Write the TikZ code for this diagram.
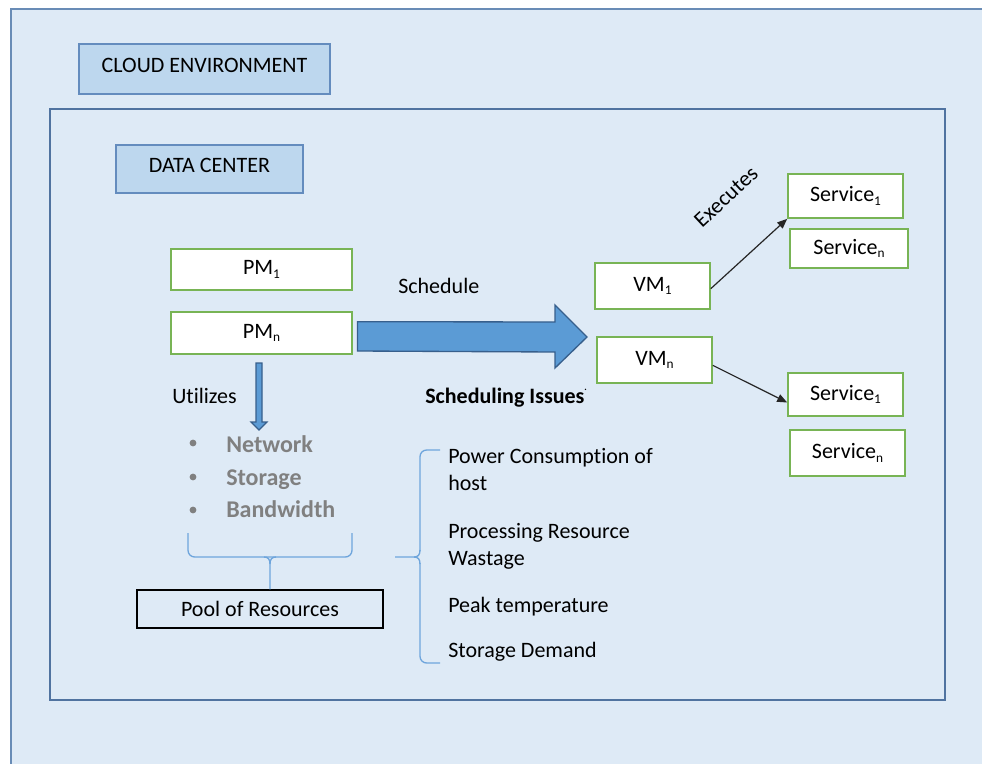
\documentclass[tikz,border=0pt]{standalone}
\usepackage{fontspec}
\setmainfont{Carlito}[Ligatures=NoCommon]
\usetikzlibrary{fit,arrows.meta}

\definecolor{bgblue}{RGB}{222,234,246}
\definecolor{titlefill}{RGB}{189,215,238}
\definecolor{titleline}{RGB}{100,140,190}
\definecolor{frameline}{RGB}{105,140,182}
\definecolor{dcline}{RGB}{80,115,160}
\definecolor{boxgreen}{RGB}{120,180,85}
\definecolor{arrowfill}{RGB}{91,155,213}
\definecolor{arrowline}{RGB}{55,95,140}
\definecolor{bracecol}{RGB}{110,165,220}
\definecolor{resgray}{RGB}{128,128,128}

% small index set low, as in the labels of the machines
\newcommand{\idx}[1]{\raisebox{-0.35ex}{\fontsize{10}{10}\selectfont #1}}

\begin{document}
\begin{tikzpicture}[x=0.75pt,y=-0.75pt,
  font=\fontsize{16.5}{19}\selectfont,
  frame/.style={draw=frameline, line width=1.4pt, inner sep=0pt},
  titlebox/.style={draw=titleline, fill=titlefill, line width=1.1pt, inner sep=0pt},
  gbox/.style={draw=boxgreen, fill=white, line width=1.2pt, inner sep=0pt},
  bigarrow/.style={fill=arrowfill, draw=arrowline, line width=1pt, line join=miter},
  brace/.style={draw=bracecol, line width=1pt},
  conn/.style={draw=black!85, line width=0.9pt, -{Triangle[length=7.5pt,width=6pt]}},
  plain/.style={inner sep=0pt, anchor=base west},
  res/.style={plain, text=resgray, font=\fontsize{18}{21}\selectfont\bfseries}
]
% page
\useasboundingbox (0,0) rectangle (982,764);
\fill[white] (0,0) rectangle (982,764);

% cloud environment frame (runs off the page to the right and bottom)
\node[frame, fill=bgblue, fit={(11,9) (1010,790)}] (cloud) {};
\node[titlebox, fit={(79,44) (330,94)}] (cloudtitle) {};
\node at ([yshift=3pt]cloudtitle.center) {CLOUD ENVIRONMENT};

% data center frame
\node[draw=dcline, line width=1.2pt, inner sep=0pt, fit={(50,109) (945,700)}] (dc) {};
\node[titlebox, fit={(116,145) (303,193)}] (dctitle) {};
\node at ([yshift=3pt]dctitle.center) {DATA CENTER};

% physical machines
\node[gbox, fit={(171,249) (352,290)}] (pm1) {};
\node at (pm1.center) {PM\idx{1}};
\node[gbox, fit={(171,312) (352,354)}] (pmn) {};
\node at (pmn.center) {PM\idx{n}};

% virtual machines
\node[gbox, fit={(595,263) (710,309)}] (vm1) {};
\node at (vm1.center) {VM\idx{1}};
\node[gbox, fit={(597,337) (712,383)}] (vmn) {};
\node at (vmn.center) {VM\idx{n}};

% services
\node[gbox, fit={(788,174) (903,218)}] (s1a) {};
\node at (s1a.center) {Service\idx{1}};
\node[gbox, fit={(790,229) (908,268)}] (sna) {};
\node at (sna.center) {Service\idx{n}};
\node[gbox, fit={(788,373) (903,416)}] (s1b) {};
\node at (s1b.center) {Service\idx{1}};
\node[gbox, fit={(790,430) (905,476)}] (snb) {};
\node at (snb.center) {Service\idx{n}};

% schedule block arrow from PM_n towards the VMs
\path[bigarrow] ([xshift=3.5pt,yshift=8.5pt]pmn.east) -- (555,322) -- (555,305)
  -- (587,337) -- (555,368) -- (555,352) -- ([xshift=3.5pt,yshift=-13.5pt]pmn.east) -- cycle;
\node[plain] (schedule) at (398,293) {Schedule};
\node[plain, font=\fontsize{16.5}{19}\selectfont\bfseries] (issues) at (425,403)
  {Scheduling Issues\raisebox{1.2ex}{\fontsize{7}{7}\selectfont .}};

% utilizes arrow
\path[bigarrow, line width=0.9pt] (256,363) -- (262,363) -- (262,422) -- (267,422)
  -- (259,430) -- (251,422) -- (256,422) -- cycle;
\node[plain] (utilizes) at (172,403) {Utilizes};

% resources
\foreach \yy in {443,477,510} \fill[resgray] (193,\yy) circle (3.4);
\node[res] (network) at (226,452) {Network};
\node[res] (storage) at (226,485) {Storage};
\node[res] (bandwidth) at (226,517) {Bandwidth};

% pool of resources with its brace
\node[draw=black, line width=1.1pt, inner sep=0pt, fit={(137,590) (383,628)}] (pool) {};
\node at (pool.center) {Pool of Resources};
\draw[brace, rounded corners=5] (188,533) -- (188,557) -- (352,557) -- (352,533);
\draw[brace] (264,557) .. controls (268,557) and (270,559) .. (270,564) -- ([xshift=7.5pt]pool.north);
\draw[brace] (276,557) .. controls (272,557) and (270,559) .. (270,564);

% scheduling issues brace
\draw[brace, rounded corners=5] (440,450) -- (420,450) -- (420,551);
\draw[brace] (420,550) .. controls (420,555) and (418,557) .. (414,557) -- (395,557);
\draw[brace] (420,564) .. controls (420,559) and (418,557) .. (414,557);
\draw[brace, rounded corners=5] (420,563) -- (420,663) -- (440,663);

\node[plain] (i1) at (448,463) {Power Consumption of};
\node[plain] (i1b) at (448,490) {host};
\node[plain] (i2) at (448,538) {Processing Resource};
\node[plain] (i2b) at (448,565) {Wastage};
\node[plain] (i3) at (448,612) {Peak temperature};
\node[plain] (i4) at (448,657) {Storage Demand};

% VM to service connectors
\draw[conn] ([yshift=-2pt]vm1.east) -- (s1a.south west);
\draw[conn] ([yshift=-4pt]vmn.east) -- ([yshift=-6pt]s1b.west);
\node[rotate=43] (executes) at (726,197) {Executes};
\end{tikzpicture}
\end{document}
